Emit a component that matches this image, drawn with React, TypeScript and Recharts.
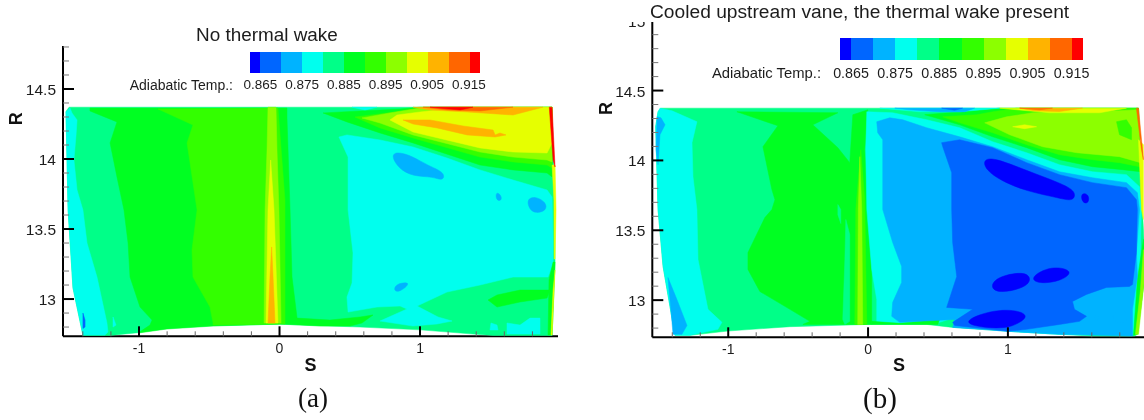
import { ScatterChart, Scatter, XAxis, YAxis } from 'recharts';

type Ring = number[][];

// contour level colours, low to high, as on the colour bar
const LEVEL_COLORS = ['#0000ff', '#0066ff', '#00b3ff', '#00ffee', '#00ff88', '#00ff22', '#33ff00', '#8cff00', '#e6ff00', '#ffb300', '#ff6600', '#ff0000'];
const BAR_LABELS = ['0.865', '0.875', '0.885', '0.895', '0.905', '0.915'];
const S_TICKS = [-1.4, -1.2, -1, -0.8, -0.6, -0.4, -0.2, 0, 0.2, 0.4, 0.6, 0.8, 1, 1.2, 1.4, 1.6, 1.8];
const R_TICKS = [12.8, 12.9, 13, 13.1, 13.2, 13.3, 13.4, 13.5, 13.6, 13.7, 13.8, 13.9, 14, 14.1, 14.2, 14.3, 14.4, 14.5, 14.6, 14.7, 14.8, 14.9, 15];

// panel (a), contour outlines as [S, R]
const aDomain: Ring = [[-1.52, 14.34], [-1.498, 14.37], [1.94, 14.37], [1.961, 13.64], [1.961, 13.26], [1.94, 12.74], [1.52, 12.74], [1.377, 12.75], [1.0, 12.78], [0.573, 12.8], [0.288, 12.81], [0, 12.82], [-0.473, 12.81], [-0.8, 12.79], [-1.007, 12.76], [-1.206, 12.74], [-1.399, 12.74], [-1.47, 13.08], [-1.505, 13.64]];
const aLeftCyan: Ring = [[-1.52, 14.336], [-1.491, 14.364], [-1.477, 14.329], [-1.441, 14.279], [-1.448, 14.172], [-1.463, 13.993], [-1.441, 13.779], [-1.399, 13.636], [-1.37, 13.4], [-1.299, 13.157], [-1.228, 12.829], [-1.221, 12.765], [-1.242, 12.743], [-1.399, 12.743], [-1.47, 13.079], [-1.505, 13.636]];
const aGreen: Ring = [[-1.349, 14.343], [-1.157, 14.265], [-1.206, 14.115], [-1.157, 13.872], [-1.107, 13.636], [-1.078, 13.4], [-1.064, 13.157], [-0.993, 12.943], [-0.907, 12.85], [-0.922, 12.814], [-1.007, 12.757], [-0.801, 12.786], [-0.473, 12.807], [0.004, 12.822], [0.288, 12.807], [0.502, 12.807], [0.587, 12.829], [0.665, 12.886], [0.573, 12.872], [0.359, 12.85], [0.125, 12.864], [0.089, 13.157], [0.075, 13.636], [0.053, 14.3], [0.053, 14.364], [-1.349, 14.364]];
const aLevel6: Ring = [[-0.865, 14.357], [-0.011, 14.364], [0.039, 13.707], [0.039, 12.822], [-0.473, 12.814], [-0.473, 12.829], [-0.495, 12.943], [-0.616, 13.157], [-0.623, 13.35], [-0.587, 13.636], [-0.658, 14.115], [-0.616, 14.243]];
const aSpikeLime: Ring = [[-0.082, 14.37], [-0.025, 14.37], [-0.018, 14.064], [-0.004, 13.636], [0.011, 12.829], [-0.11, 12.829], [-0.103, 13.636], [-0.089, 14.064]];
const aSpikeYellow: Ring = [[-0.063, 13.993], [-0.039, 13.636], [-0.011, 12.829], [-0.096, 12.829], [-0.082, 13.636]];
const aSpikeOrange: Ring = [[-0.056, 13.372], [-0.046, 13.157], [-0.032, 12.829], [-0.082, 12.829], [-0.068, 13.157]];
const aRightCyan: Ring = [[0.423, 14.157], [0.48, 14.172], [0.715, 14.136], [0.95, 14.086], [1.192, 14.007], [1.427, 13.922], [1.662, 13.85], [1.904, 13.779], [1.94, 13.729], [1.947, 13.422], [1.947, 13.257], [1.911, 13.157], [1.662, 13.157], [1.427, 13.1], [1.192, 13.05], [0.979, 12.95], [1.128, 12.872], [1.228, 12.843], [1.121, 12.822], [0.95, 12.807], [0.715, 12.843], [0.907, 12.929], [0.858, 12.95], [0.694, 12.943], [0.488, 12.907], [0.48, 13.014], [0.516, 13.115], [0.523, 13.329], [0.488, 13.636], [0.488, 14.014]];
const aCornerCyan: Ring = [[1.619, 12.829], [1.712, 12.814], [1.783, 12.864], [1.854, 12.864], [1.854, 12.75], [1.619, 12.75]];
const aCornerCyan2: Ring = [[1.505, 12.829], [1.548, 12.814], [1.555, 12.779], [1.498, 12.779]];
const aBlobUpper: Ring = [[0.795, 14.02], [0.83, 14.055], [0.95, 14.02], [1.05, 13.955], [1.18, 13.905], [1.165, 13.84], [1.093, 13.875], [0.95, 13.875], [0.85, 13.93]];
const aBlobSmall: Ring = [[1.54, 13.77], [1.58, 13.74], [1.58, 13.7], [1.54, 13.705]];
const aBlobEdge: Ring = [[1.76, 13.715], [1.82, 13.735], [1.9, 13.69], [1.9, 13.63], [1.82, 13.61], [1.775, 13.645]];
const aBlobLow: Ring = [[0.82, 13.11], [0.945, 13.125], [0.865, 13.055], [0.815, 13.05]];
const aBlueFleck: Ring = [[-1.399, 12.9], [-1.384, 12.85], [-1.384, 12.8], [-1.399, 12.79]];
const aCyanFleck: Ring = [[-1.185, 12.872], [-1.164, 12.814], [-1.185, 12.8]];
const aLowGreen: Ring = [[1.484, 12.993], [1.548, 13.029], [1.712, 13.064], [1.925, 13.064], [1.904, 13.007], [1.712, 12.979], [1.548, 12.943]];
const aTopSliver: Ring = [[0.516, 14.37], [0.694, 14.37], [0.609, 14.35]];
const aWedge5: Ring = [[0.31, 14.329], [0.573, 14.343], [0.858, 14.357], [1.0, 14.37], [1.94, 14.37], [1.94, 13.872], [1.904, 13.9], [1.662, 13.922], [1.427, 13.957], [0.95, 14.115], [0.715, 14.186], [0.48, 14.265]];
const aWedge6: Ring = [[0.537, 14.3], [0.822, 14.336], [1.036, 14.37], [1.94, 14.37], [1.94, 13.936], [1.904, 13.957], [1.662, 13.979], [1.427, 14.014], [0.95, 14.15], [0.715, 14.222]];
const aWedge7: Ring = [[0.587, 14.293], [0.786, 14.329], [1.0, 14.364], [1.94, 14.37], [1.94, 13.979], [1.904, 13.993], [1.662, 14.014], [1.427, 14.05], [0.95, 14.172], [0.715, 14.257]];
const aWedge8: Ring = [[0.786, 14.279], [0.836, 14.314], [1.0, 14.336], [1.192, 14.357], [1.285, 14.37], [1.94, 14.37], [1.94, 14.115], [1.904, 14.043], [1.662, 14.05], [1.427, 14.079], [0.95, 14.193]];
const aCore: Ring = [[0.879, 14.279], [1.071, 14.279], [1.306, 14.236], [1.52, 14.207], [1.534, 14.172], [1.569, 14.186], [1.612, 14.172], [1.534, 14.157], [1.335, 14.172], [1.121, 14.222], [0.95, 14.25]];
const aTopOrange: Ring = [[0.95, 14.37], [1.875, 14.37], [1.662, 14.314], [1.335, 14.336], [1.071, 14.35]];
const aTopDark: Ring = [[1.021, 14.37], [1.662, 14.37], [1.427, 14.343], [1.192, 14.35]];
const aTopRed: Ring = [[1.071, 14.37], [1.377, 14.37], [1.285, 14.35]];
const aEdgeRed: Ring = [[1.92, 14.37], [1.94, 14.37], [1.961, 13.943], [1.947, 13.993], [1.925, 14.3]];
const aEdgeYellow: Ring = [[1.94, 13.957], [1.961, 13.957], [1.968, 13.636], [1.961, 13.286], [1.955, 13.286], [1.953, 13.707]];
const aEdgeLow5: Ring = [[1.918, 13.136], [1.947, 13.264], [1.961, 13.264], [1.94, 12.743], [1.911, 12.743]];
const aEdgeLow8: Ring = [[1.947, 13.064], [1.961, 13.207], [1.94, 12.743], [1.932, 12.743]];

// panel (b)
const bDomain: Ring = [[-1.502, 14.348], [-1.483, 14.374], [1.934, 14.374], [1.962, 13.648], [1.984, 13.219], [1.926, 12.755], [1.905, 12.743], [1.605, 12.743], [1.369, 12.755], [0.998, 12.777], [0.605, 12.805], [0.419, 12.826], [-0.002, 12.826], [-0.559, 12.81], [-1.002, 12.779], [-1.274, 12.748], [-1.381, 12.748], [-1.466, 13.241], [-1.502, 13.648], [-1.519, 14.241]];
const bLeftCyan: Ring = [[-1.488, 14.374], [-1.402, 14.355], [-1.224, 14.277], [-1.259, 14.127], [-1.252, 13.884], [-1.224, 13.648], [-1.216, 13.291], [-1.145, 12.934], [-1.045, 12.841], [-1.074, 12.791], [-1.274, 12.748], [-1.381, 12.748], [-1.466, 13.241], [-1.502, 13.648], [-1.519, 14.241], [-1.502, 14.348]];
const bLeftBlue: Ring = [[-1.509, 14.312], [-1.481, 14.305], [-1.452, 14.255], [-1.488, 14.184], [-1.502, 13.969], [-1.516, 14.077]];
const bLowBlue: Ring = [[-1.431, 13.162], [-1.367, 13.005], [-1.295, 12.819], [-1.331, 12.755], [-1.395, 12.755], [-1.402, 12.841]];
const bGreen: Ring = [[-0.938, 14.348], [-0.216, 14.341], [-0.395, 14.255], [-0.216, 14.091], [-0.131, 13.984], [-0.109, 14.327], [-0.002, 14.362], [-0.024, 14.077], [-0.002, 13.648], [0.026, 13.219], [0.026, 12.826], [-0.466, 12.826], [-0.416, 12.848], [-0.559, 12.934], [-0.774, 13.062], [-0.859, 13.219], [-0.859, 13.341], [-0.738, 13.591], [-0.688, 13.648], [-0.666, 13.719], [-0.688, 13.791], [-0.752, 14.098], [-0.645, 14.248]];
const bSpringStrip: Ring = [[-0.159, 13.577], [-0.131, 13.469], [-0.131, 12.848], [-0.166, 12.826], [-0.181, 12.862], [-0.166, 13.291]];
const bSpringFleck: Ring = [[-0.216, 13.684], [-0.195, 13.648], [-0.195, 13.548], [-0.216, 13.612]];
const bSpike6: Ring = [[-0.052, 14.077], [-0.024, 13.719], [-0.009, 12.826], [-0.095, 12.826], [-0.088, 13.648]];
const bSpike7: Ring = [[-0.059, 14.027], [-0.045, 13.648], [-0.038, 12.826], [-0.074, 12.826], [-0.07, 13.648]];
const bRightCyan: Ring = [[-0.009, 14.348], [0.176, 14.341], [0.419, 14.291], [0.655, 14.234], [0.891, 14.134], [1.134, 14.055], [1.369, 13.969], [1.605, 13.919], [1.848, 13.898], [1.941, 13.812], [1.955, 13.648], [1.941, 13.098], [1.905, 12.748], [1.369, 12.755], [0.998, 12.777], [0.655, 12.819], [0.619, 12.876], [0.512, 12.841], [0.226, 12.834], [0.119, 12.826], [0.062, 12.841], [0.062, 13.005], [0.026, 13.219], [-0.009, 13.648], [-0.016, 14.077]];
const bLowGreen: Ring = [[0.026, 12.848], [0.226, 12.834], [0.512, 12.862], [0.498, 12.826], [0.026, 12.826]];
const bWedge5: Ring = [[0.405, 14.327], [0.655, 14.348], [0.941, 14.374], [1.934, 14.374], [1.948, 13.919], [1.819, 13.934], [1.605, 13.955], [1.369, 14.005], [1.134, 14.091], [0.891, 14.169], [0.655, 14.255]];
const bWedge6: Ring = [[0.534, 14.312], [0.776, 14.327], [0.891, 14.348], [1.062, 14.374], [1.934, 14.374], [1.941, 13.955], [1.798, 13.984], [1.605, 14.005], [1.369, 14.041], [1.134, 14.112], [0.891, 14.198], [0.655, 14.269]];
const bWedge7: Ring = [[0.834, 14.269], [0.99, 14.312], [1.176, 14.341], [1.369, 14.348], [1.655, 14.348], [1.934, 14.362], [1.948, 13.984], [1.798, 14.027], [1.491, 14.055], [1.248, 14.098], [1.012, 14.184]];
const bPatch6: Ring = [[1.777, 14.277], [1.848, 14.291], [1.884, 14.234], [1.884, 14.148], [1.798, 14.184]];
const bTopCyan: Ring = [[0.084, 14.374], [0.941, 14.374], [0.655, 14.348], [0.369, 14.348]];
const bTopBlue: Ring = [[0.191, 14.374], [0.762, 14.374], [0.691, 14.348], [0.512, 14.348], [0.298, 14.362]];
const bTopNavy: Ring = [[0.526, 14.374], [0.676, 14.374], [0.619, 14.359]];
const bTopYellow: Ring = [[0.941, 14.374], [1.848, 14.374], [1.655, 14.341], [1.298, 14.341]];
const bTopOrange: Ring = [[1.084, 14.374], [1.534, 14.374], [1.369, 14.35], [1.19, 14.355]];
const bTopDark: Ring = [[1.084, 14.374], [1.319, 14.374], [1.226, 14.362]];
const bCoreYellow: Ring = [[1.034, 14.241], [1.119, 14.255], [1.205, 14.241], [1.119, 14.227]];
const bEdgeRed: Ring = [[1.919, 14.374], [1.934, 14.374], [1.969, 14.005], [1.955, 14.077]];
const bEdgeYellow: Ring = [[1.934, 14.148], [1.969, 14.112], [1.969, 13.577], [1.955, 13.648]];
const bEdgeLow7: Ring = [[1.948, 13.076], [1.969, 13.362], [1.984, 13.219], [1.934, 12.755], [1.912, 12.755]];
const bEdgeLow5: Ring = [[1.926, 13.148], [1.969, 13.434], [1.984, 13.219], [1.926, 12.755], [1.898, 12.748]];
const bLightBlue: Ring = [[0.062, 14.277], [0.155, 14.305], [0.248, 14.291], [0.419, 14.234], [0.655, 14.169], [0.891, 14.098], [1.134, 14.005], [1.369, 13.919], [1.605, 13.876], [1.848, 13.841], [1.926, 13.769], [1.941, 13.648], [1.919, 13.341], [1.926, 13.169], [1.891, 12.934], [1.891, 12.743], [1.369, 12.755], [0.998, 12.777], [0.605, 12.805], [0.619, 12.862], [0.226, 12.841], [0.169, 12.884], [0.176, 12.984], [0.24, 13.127], [0.24, 13.241], [0.176, 13.412], [0.105, 13.648], [0.105, 14.148], [0.069, 14.198]];
const bDarkBlue: Ring = [[0.526, 14.127], [0.655, 14.148], [0.891, 14.091], [1.134, 13.984], [1.369, 13.898], [1.605, 13.841], [1.848, 13.805], [1.919, 13.719], [1.926, 13.648], [1.919, 13.341], [1.891, 13.112], [1.869, 13.098], [1.705, 13.091], [1.562, 13.041], [1.462, 12.991], [1.476, 12.934], [1.562, 12.884], [1.512, 12.848], [1.369, 12.826], [1.134, 12.791], [0.998, 12.777], [0.619, 12.819], [0.605, 12.841], [0.748, 12.934], [0.562, 12.948], [0.634, 13.169], [0.605, 13.412], [0.598, 13.648], [0.598, 13.912], [0.534, 14.098]];
const bIsle: Ring = [[1.745, 12.92], [1.84, 12.93], [1.865, 12.876], [1.83, 12.83], [1.755, 12.84]];
const bDot: Ring = [[1.62, 12.9], [1.655, 12.89], [1.648, 12.855], [1.62, 12.855]];
const bDeep1: Ring = [[0.82, 14.0], [0.89, 14.025], [1.14, 13.925], [1.37, 13.84], [1.49, 13.78], [1.47, 13.705], [1.37, 13.73], [1.13, 13.78], [0.95, 13.855], [0.845, 13.93]];
const bDeep2: Ring = [[1.52, 13.77], [1.58, 13.76], [1.58, 13.69], [1.53, 13.695]];
const bDeep3: Ring = [[0.87, 13.09], [0.92, 13.17], [1.14, 13.21], [1.17, 13.13], [1.09, 13.08], [0.94, 13.05]];
const bDeep4: Ring = [[1.15, 13.16], [1.31, 13.25], [1.48, 13.21], [1.38, 13.135], [1.22, 13.115]];
const bDeep5: Ring = [[0.65, 12.84], [0.88, 12.93], [1.07, 12.93], [1.15, 12.885], [1.07, 12.83], [0.99, 12.8], [0.84, 12.8]];

// [level, outline, rounded], painted in this order
const layersA: [number, Ring, boolean?][] = [
  [4, aDomain], [3, aLeftCyan], [5, aGreen], [6, aLevel6], [7, aSpikeLime], [8, aSpikeYellow], [9, aSpikeOrange],
  [3, aRightCyan], [3, aCornerCyan], [3, aCornerCyan2], [2, aBlobUpper, true], [2, aBlobSmall, true], [2, aBlobEdge, true], [2, aBlobLow, true],
  [1, aBlueFleck], [3, aCyanFleck], [5, aLowGreen], [5, aWedge5], [3, aTopSliver], [6, aWedge6], [7, aWedge7], [8, aWedge8],
  [9, aCore], [9, aTopOrange], [10, aTopDark], [11, aTopRed], [8, aEdgeYellow], [5, aEdgeLow5], [8, aEdgeLow8], [11, aEdgeRed],
];
const layersB: [number, Ring, boolean?][] = [
  [4, bDomain], [3, bLeftCyan], [2, bLeftBlue], [2, bLowBlue], [5, bGreen], [4, bSpringStrip], [4, bSpringFleck], [6, bSpike6], [7, bSpike7],
  [3, bRightCyan], [5, bLowGreen], [5, bWedge5], [3, bTopCyan], [2, bTopBlue], [1, bTopNavy], [6, bWedge6], [7, bWedge7], [6, bPatch6],
  [8, bTopYellow], [9, bTopOrange], [10, bTopDark], [8, bCoreYellow], [8, bEdgeYellow], [5, bEdgeLow5], [7, bEdgeLow7], [10, bEdgeRed],
  [2, bLightBlue], [1, bDarkBlue], [2, bIsle, true], [2, bDot, true], [0, bDeep1, true], [0, bDeep2, true], [0, bDeep3, true], [0, bDeep4, true], [0, bDeep5, true],
];

const FONT = '"Liberation Sans", Arial, sans-serif';
const INK = '#1c1c1c';

function STick({ x, y, payload }: any) {
  const major = Number.isInteger(payload.value);
  return (
    <g>
      <line x1={x} x2={x} y1={y} y2={y - (major ? 10 : 5)} stroke={major ? '#000' : '#666'} strokeWidth={major ? 2 : 1} />
      {major && (
        <text x={x} y={y + 17} textAnchor="middle" fontSize={14} fontFamily={FONT} fill={INK}>{payload.value}</text>
      )}
    </g>
  );
}

function RTick({ x, y, payload }: any) {
  const v = payload.value;
  const major = Math.abs(v * 2 - Math.round(v * 2)) < 1e-6;
  return (
    <g>
      <line x1={x} x2={x + (major ? 11 : 6)} y1={y} y2={y} stroke={major ? '#000' : '#777'} strokeWidth={major ? 2 : 1} />
      {major && (
        <text x={x - 7} y={y + 6} textAnchor="end" fontSize={15.5} fontFamily={FONT} fill={INK}>{v}</text>
      )}
    </g>
  );
}

function Panel({ left, width, plotLeft, plotTop, plotBottom, sDomain, rDomain, layers, rLabelDy }: any) {
  return (
    <div style={{ position: 'absolute', left, top: 0 }}>
      <ScatterChart width={width} height={420} margin={{ top: plotTop, right: sDomain[2], bottom: 0, left: 0 }}>
        <XAxis
          type="number"
          dataKey="s"
          domain={[sDomain[0], sDomain[1]]}
          ticks={S_TICKS}
          interval={0}
          height={420 - plotBottom}
          tickSize={0}
          tickMargin={0}
          tick={STick}
          axisLine={{ stroke: '#000', strokeWidth: 2 }}
          label={{ value: 'S', position: 'insideBottom', offset: 49, fontSize: 18, fontWeight: 700, fontFamily: FONT, fill: '#111' }}
        />
        <YAxis
          type="number"
          dataKey="r"
          domain={rDomain}
          ticks={R_TICKS.filter((t) => t <= rDomain[1])}
          interval={0}
          width={plotLeft}
          tickSize={0}
          tickMargin={0}
          tick={RTick}
          axisLine={{ stroke: '#000', strokeWidth: 2 }}
          label={{ value: 'R', angle: -90, position: 'insideLeft', offset: 16, dy: rLabelDy, fontSize: 18, fontWeight: 700, fontFamily: FONT, fill: '#111' }}
        />
        {layers.map(([level, ring, rounded]: [number, Ring, boolean?], i: number) => (
          <Scatter
            key={i}
            data={ring.map(([s, r]) => ({ s, r }))}
            line={{ fill: LEVEL_COLORS[level], stroke: LEVEL_COLORS[level], strokeWidth: 0.5 }}
            lineJointType={rounded ? 'basisClosed' : 'linearClosed'}
            shape={() => null}
            legendType="none"
            isAnimationActive={false}
          />
        ))}
      </ScatterChart>
    </div>
  );
}

function ColorBar({ left, top, width, height, step, labelTop, fontSize, captionSize, captionRight }: any) {
  const unit = width / (LEVEL_COLORS.length - 1);
  return (
    <>
      <div style={{ position: 'absolute', left, top, width, height, display: 'flex' }}>
        {LEVEL_COLORS.map((c, i) => (
          <div key={c} style={{ background: c, width: unit * (i === 0 || i === LEVEL_COLORS.length - 1 ? 0.5 : 1) }} />
        ))}
      </div>
      <div style={{ position: 'absolute', right: 1144 - captionRight, top: labelTop, fontSize: captionSize, lineHeight: '16px', fontFamily: FONT, color: INK, whiteSpace: 'nowrap' }}>Adiabatic Temp.:</div>
      {BAR_LABELS.map((t, i) => (
        <div key={t} style={{ position: 'absolute', left: left + unit * 0.5 + step * i - 30, width: 60, textAlign: 'center', top: labelTop, fontSize, lineHeight: '16px', fontFamily: FONT, color: INK }}>{t}</div>
      ))}
    </>
  );
}

export default function App() {
  return (
    <div style={{ position: 'absolute', left: 0, top: 0, width: 1144, height: 420, overflow: 'hidden', background: '#fff', filter: 'blur(0.4px)' }}>
      <Panel left={0} width={570} plotLeft={63} plotTop={46} plotBottom={336.3} sDomain={[-1.541, 1.982, 12]} rDomain={[12.734, 14.807]} layers={layersA} rLabelDy={-66} />
      <Panel left={590} width={560} plotLeft={62.3} plotTop={20.7} plotBottom={337.3} sDomain={[-1.543, 1.98, 4.5]} rDomain={[12.734, 15]} layers={layersB} rLabelDy={-64} />

      <div style={{ position: 'absolute', left: 590, top: 0, width: 554, height: 22, background: '#fff' }} />
      <div style={{ position: 'absolute', left: 196, top: 24, fontSize: 18.9, lineHeight: '22px', fontFamily: FONT, color: INK, whiteSpace: 'nowrap' }}>No thermal wake</div>
      <div style={{ position: 'absolute', left: 650, top: 1, fontSize: 19.2, lineHeight: '22px', fontFamily: FONT, color: INK, whiteSpace: 'nowrap' }}>Cooled upstream vane, the thermal wake present</div>

      <ColorBar left={250} top={52} width={230} height={21} step={41.7} labelTop={77} fontSize={13.5} captionSize={14} captionRight={233} />
      <ColorBar left={840} top={38} width={243.3} height={22} step={44.1} labelTop={65} fontSize={14.3} captionSize={14.8} captionRight={821} />

      <div style={{ position: 'absolute', left: 298, top: 382, fontSize: 27, lineHeight: '32px', fontFamily: '"Liberation Serif", serif', color: '#111' }}>(a)</div>
      <div style={{ position: 'absolute', left: 863, top: 382, fontSize: 29, lineHeight: '32px', fontFamily: '"Liberation Serif", serif', color: '#111' }}>(b)</div>
    </div>
  );
}
